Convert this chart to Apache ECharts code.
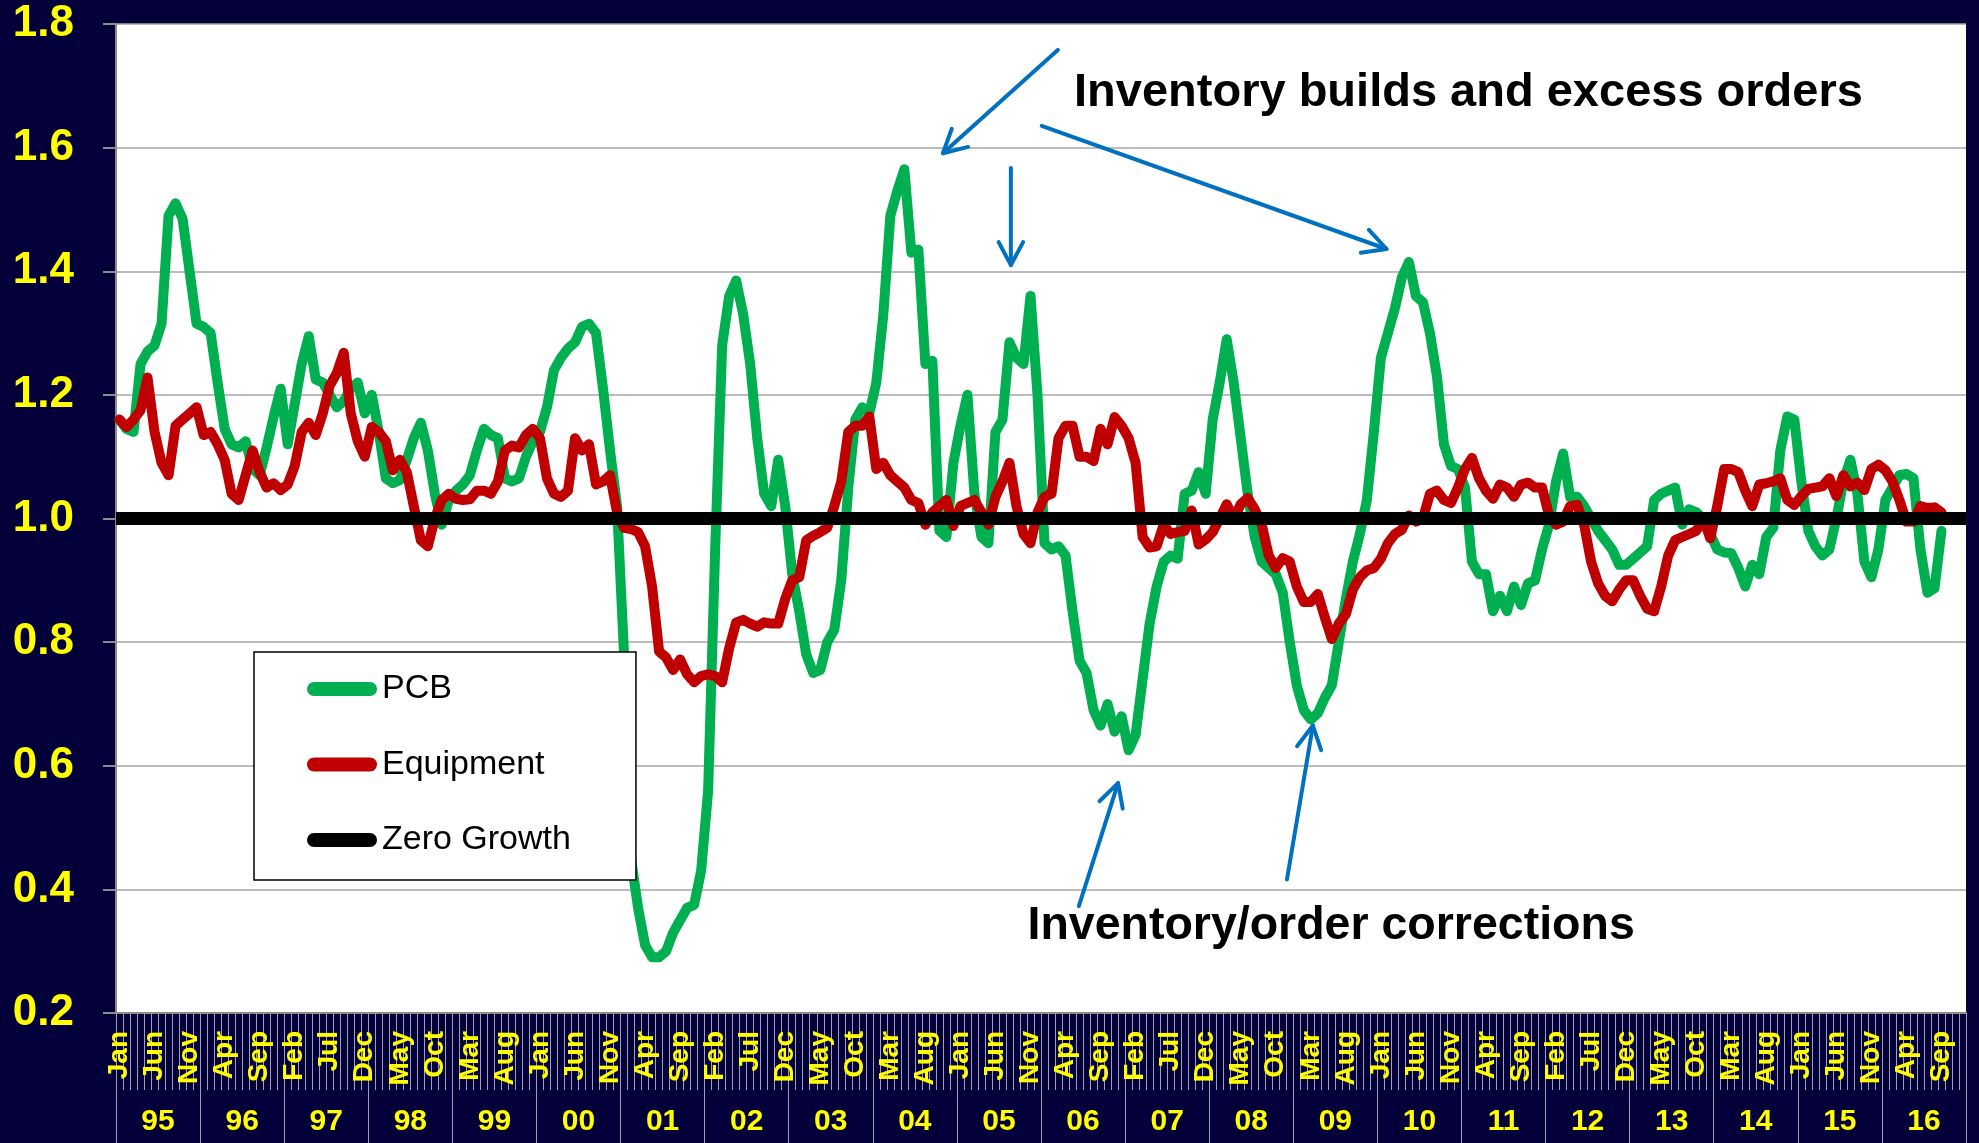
<!DOCTYPE html>
<html>
<head>
<meta charset="utf-8">
<title>PCB and Equipment Book-to-Bill</title>
<script src="https://cdn.jsdelivr.net/npm/echarts@6/dist/echarts.min.js"></script>
<style>
  html, body { margin: 0; padding: 0; background: #04003A; overflow: hidden; }
  #chart { width: 1979px; height: 1143px; }
</style>
</head>
<body>
<div id="chart"></div>
<script>
// Category labels
const MONTHS = ['Jan','Feb','Mar','Apr','May','Jun','Jul','Aug','Sep','Oct','Nov','Dec'];
const YEARS = ['95','96','97','98','99','00','01','02','03','04','05','06','07','08','09','10','11','12','13','14','15','16'];

// Monthly book-to-bill ratios, Jan 1995 .. Sep 2016 (one row per year)
const pcb = [
  1.16, 1.145, 1.14, 1.25, 1.27, 1.28, 1.315, 1.49, 1.51, 1.485, 1.40, 1.315,
  1.31, 1.30, 1.22, 1.145, 1.12, 1.115, 1.125, 1.08, 1.07, 1.115, 1.165, 1.21,
  1.12, 1.185, 1.25, 1.295, 1.225, 1.22, 1.20, 1.18, 1.19, 1.21, 1.22, 1.17,
  1.20, 1.14, 1.065, 1.057, 1.062, 1.095, 1.13, 1.155, 1.11, 1.04, 0.99, 1.03,
  1.045, 1.055, 1.07, 1.11, 1.145, 1.135, 1.13, 1.065, 1.06, 1.065, 1.10, 1.125,
  1.14, 1.18, 1.24, 1.26, 1.275, 1.285, 1.31, 1.315, 1.30, 1.21, 1.11, 1.02,
  0.78, 0.45, 0.37, 0.31, 0.29, 0.29, 0.30, 0.33, 0.35, 0.37, 0.375, 0.43,
  0.56, 0.95, 1.28, 1.36, 1.385, 1.33, 1.25, 1.13, 1.04, 1.02, 1.095, 1.02,
  0.91, 0.85, 0.78, 0.75, 0.755, 0.80, 0.82, 0.90, 1.05, 1.16, 1.18, 1.17,
  1.22, 1.33, 1.49, 1.53, 1.565, 1.43, 1.435, 1.25, 1.255, 0.98, 0.97, 1.09,
  1.15, 1.20, 1.04, 0.97, 0.96, 1.14, 1.16, 1.285, 1.26, 1.25, 1.36, 1.20,
  0.96, 0.95, 0.955, 0.94, 0.85, 0.77, 0.75, 0.69, 0.665, 0.70, 0.655, 0.68,
  0.625, 0.65, 0.74, 0.83, 0.89, 0.93, 0.94, 0.935, 1.04, 1.045, 1.075, 1.04,
  1.16, 1.22, 1.29, 1.22, 1.13, 1.04, 0.97, 0.93, 0.92, 0.91, 0.88, 0.80,
  0.73, 0.69, 0.675, 0.685, 0.71, 0.73, 0.80, 0.87, 0.93, 0.975, 1.03, 1.14,
  1.26, 1.30, 1.34, 1.39, 1.415, 1.36, 1.35, 1.30, 1.23, 1.12, 1.085, 1.08,
  1.05, 0.93, 0.91, 0.91, 0.85, 0.875, 0.85, 0.89, 0.86, 0.895, 0.90, 0.95,
  0.99, 1.06, 1.105, 1.035, 1.035, 1.02, 1.00, 0.98, 0.965, 0.95, 0.925, 0.925,
  0.935, 0.945, 0.955, 1.03, 1.04, 1.045, 1.05, 0.99, 1.015, 1.01, 1.00, 0.975,
  0.95, 0.945, 0.944, 0.92, 0.89, 0.925, 0.91, 0.97, 0.985, 1.11, 1.165, 1.16,
  1.06, 0.98, 0.955, 0.94, 0.95, 1.00, 1.06, 1.095, 1.04, 0.93, 0.905, 0.95,
  1.03, 1.05, 1.07, 1.072, 1.065, 0.95, 0.88, 0.887, 0.98
];

const equipment = [
  1.16, 1.148, 1.16, 1.175, 1.228, 1.14, 1.09, 1.07, 1.15, 1.16, 1.17, 1.18,
  1.135, 1.14, 1.12, 1.095, 1.04, 1.03, 1.07, 1.11, 1.075, 1.05, 1.057, 1.046,
  1.055, 1.085, 1.14, 1.155, 1.135, 1.17, 1.215, 1.235, 1.268, 1.17, 1.125, 1.10,
  1.148, 1.14, 1.125, 1.078, 1.095, 1.075, 1.02, 0.965, 0.955, 1.00, 1.03, 1.04,
  1.032, 1.03, 1.031, 1.045, 1.045, 1.04, 1.06, 1.11, 1.118, 1.115, 1.135, 1.145,
  1.13, 1.065, 1.04, 1.035, 1.045, 1.13, 1.11, 1.12, 1.055, 1.06, 1.07, 1.01,
  0.985, 0.983, 0.978, 0.955, 0.89, 0.785, 0.775, 0.755, 0.772, 0.748, 0.735, 0.745,
  0.748, 0.745, 0.735, 0.79, 0.832, 0.836, 0.83, 0.825, 0.832, 0.83, 0.83, 0.87,
  0.90, 0.905, 0.965, 0.972, 0.978, 0.985, 1.02, 1.06, 1.14, 1.15, 1.15, 1.165,
  1.08, 1.09, 1.07, 1.06, 1.05, 1.03, 1.025, 0.99, 1.01, 1.02, 1.03, 0.988,
  1.02, 1.025, 1.03, 1.01, 0.99, 1.035, 1.06, 1.09, 1.02, 0.975, 0.96, 1.01,
  1.035, 1.04, 1.13, 1.15, 1.15, 1.10, 1.10, 1.093, 1.145, 1.12, 1.164, 1.15,
  1.13, 1.09, 0.97, 0.953, 0.955, 0.99, 0.975, 0.978, 0.98, 1.013, 0.958, 0.966,
  0.978, 1.00, 1.023, 1.00, 1.023, 1.033, 1.015, 0.99, 0.94, 0.92, 0.936, 0.93,
  0.89, 0.865, 0.865, 0.878, 0.84, 0.805, 0.83, 0.845, 0.885, 0.905, 0.916, 0.92,
  0.935, 0.96, 0.975, 0.982, 1.005, 0.995, 1.00, 1.04, 1.045, 1.03, 1.025, 1.05,
  1.08, 1.098, 1.065, 1.045, 1.032, 1.055, 1.05, 1.035, 1.055, 1.058, 1.05, 1.05,
  1.005, 0.99, 0.995, 1.02, 1.022, 0.99, 0.93, 0.895, 0.875, 0.866, 0.885, 0.90,
  0.90, 0.875, 0.854, 0.85, 0.89, 0.94, 0.965, 0.97, 0.975, 0.98, 1.00, 0.968,
  1.02, 1.08, 1.08, 1.075, 1.045, 1.02, 1.055, 1.057, 1.06, 1.065, 1.03, 1.022,
  1.036, 1.048, 1.05, 1.052, 1.065, 1.036, 1.07, 1.052, 1.058, 1.046, 1.08, 1.087,
  1.078, 1.06, 1.03, 0.995, 0.995, 1.02, 1.017, 1.018, 1.01
];

// A book-to-bill of 1.0 means no growth
const ZERO_GROWTH_LEVEL = 1.0;

// Value axis ticks
const Y_MIN = 0.2, Y_MAX = 1.8, Y_STEP = 0.2;

// Month categories "Jan 95" .. "Dec 16"
const categories = [];
YEARS.forEach(y => MONTHS.forEach(m => categories.push(m + ' ' + y)));

const NAVY = '#04003A';
const YELLOW = '#FFFF00';
const GREEN = '#00B050';
const RED = '#C00000';
const BLUE = '#0070C0';
const GRID_GRAY = '#A6A6A6';
const AXIS_GRAY = '#8C8C8C';
const TICK_GRAY = '#A0A0B4';
const FONT = '"Liberation Sans", Arial, sans-serif';
const PILL = 'path://M7,0H63A7,7,0,0,1,63,14H7A7,7,0,0,1,7,0Z';

// Annotation callouts, placed in data space: [month index, ratio]
const ARROWS = [
  { from: [133.9, 1.758], to: [117.5, 1.591] },
  { from: [127.2, 1.567], to: [127.2, 1.410] },
  { from: [131.6, 1.635], to: [180.8, 1.436] },
  { from: [136.9, 0.373], to: [142.5, 0.572] },
  { from: [166.6, 0.416], to: [170.3, 0.665] }
];
const NOTES = [
  { text: 'Inventory builds and excess orders', at: [192.5, 1.688], size: 47 },
  { text: 'Inventory/order corrections', at: [172.9, 0.341], size: 46.5 }
];

const chart = echarts.init(document.getElementById('chart'), null, { renderer: 'canvas' });

const option = {
  backgroundColor: NAVY,
  animation: false,
  textStyle: { fontFamily: FONT },
  grid: {
    left: 116, right: 13, top: 24, bottom: 130,
    show: true, backgroundColor: '#FFFFFF', borderWidth: 0,
    containLabel: false, outerBoundsMode: 'none'
  },
  legend: {
    data: ['PCB', 'Equipment', 'Zero Growth'],
    orient: 'vertical',
    left: 254, top: 652,
    backgroundColor: '#FFFFFF',
    borderColor: '#000000', borderWidth: 1.5, borderRadius: 0,
    padding: [20, 65, 23, 53],
    itemWidth: 70, itemHeight: 14, itemGap: 41.5,
    icon: PILL,
    itemStyle: { borderWidth: 0 },
    selectedMode: false,
    textStyle: { color: '#000000', fontSize: 34, lineHeight: 34, fontFamily: FONT }
  },
  xAxis: [
    {
      type: 'category',
      data: categories,
      boundaryGap: true,
      position: 'bottom',
      axisLine: { show: true, lineStyle: { color: AXIS_GRAY, width: 2 } },
      axisTick: { show: true, interval: 0, length: 77, lineStyle: { color: TICK_GRAY, width: 1 } },
      axisLabel: {
        interval: (idx) => idx % 5 === 0,
        rotate: 90,
        margin: 18,
        color: YELLOW,
        fontSize: 28,
        fontWeight: 'bold',
        fontFamily: FONT,
        formatter: (v) => v.split(' ')[0]
      },
      splitLine: { show: false }
    },
    {
      type: 'category',
      data: YEARS,
      boundaryGap: true,
      position: 'bottom',
      offset: 77,
      axisLine: { show: false },
      axisTick: { show: true, interval: 0, length: 60, lineStyle: { color: TICK_GRAY, width: 1 } },
      axisLabel: {
        interval: 0,
        margin: 17,
        color: YELLOW,
        fontSize: 30,
        fontWeight: 'bold',
        fontFamily: FONT
      },
      splitLine: { show: false }
    }
  ],
  yAxis: {
    type: 'value',
    min: Y_MIN, max: Y_MAX, interval: Y_STEP,
    axisLine: { show: true, lineStyle: { color: AXIS_GRAY, width: 2 } },
    axisTick: { show: true, length: 13, lineStyle: { color: AXIS_GRAY, width: 2 } },
    axisLabel: {
      margin: 42,
      color: YELLOW,
      fontSize: 44,
      fontWeight: 'bold',
      fontFamily: FONT,
      formatter: (v) => v.toFixed(1)
    },
    splitLine: { show: true, lineStyle: { color: GRID_GRAY, width: 1.5 } }
  },
  series: [
    {
      name: 'PCB', type: 'line', data: pcb,
      xAxisIndex: 0, yAxisIndex: 0,
      symbol: 'none', showSymbol: false, silent: true, z: 2,
      itemStyle: { color: GREEN },
      lineStyle: { color: GREEN, width: 10, join: 'round', cap: 'round' }
    },
    {
      name: 'Equipment', type: 'line', data: equipment,
      xAxisIndex: 0, yAxisIndex: 0,
      symbol: 'none', showSymbol: false, silent: true, z: 3,
      itemStyle: { color: RED },
      lineStyle: { color: RED, width: 10, join: 'round', cap: 'round' }
    },
    {
      name: 'Zero Growth', type: 'line', data: [],
      xAxisIndex: 0, yAxisIndex: 0,
      symbol: 'none', silent: true, z: 4,
      itemStyle: { color: '#000000' },
      lineStyle: { color: '#000000', width: 13 },
      markLine: {
        silent: true,
        symbol: ['none', 'none'],
        label: { show: false },
        emphasis: { disabled: true },
        lineStyle: { color: '#000000', width: 13, type: 'solid', cap: 'butt' },
        data: [{ yAxis: ZERO_GROWTH_LEVEL }]
      }
    }
  ]
};

chart.setOption(option);

// Map data-space annotation points to pixels (fractional month index allowed)
const pA = chart.convertToPixel({ xAxisIndex: 0, yAxisIndex: 0 }, [0, 1.0]);
const pB = chart.convertToPixel({ xAxisIndex: 0, yAxisIndex: 0 }, [100, 1.8]);
const stepX = (pB[0] - pA[0]) / 100;
const stepY = (pB[1] - pA[1]) / 0.8;
const toPx = ([i, v]) => [pA[0] + i * stepX, pA[1] + (v - 1.0) * stepY];

function arrowGraphics(from, to) {
  const [x1, y1] = toPx(from);
  const [x2, y2] = toPx(to);
  const ang = Math.atan2(y2 - y1, x2 - x1);
  const head = 26, spread = 28 * Math.PI / 180;
  const w1 = [x2 - head * Math.cos(ang - spread), y2 - head * Math.sin(ang - spread)];
  const w2 = [x2 - head * Math.cos(ang + spread), y2 - head * Math.sin(ang + spread)];
  return [
    { type: 'line', z: 100, silent: true,
      shape: { x1, y1, x2, y2 },
      style: { stroke: BLUE, lineWidth: 4, lineCap: 'round' } },
    { type: 'polyline', z: 100, silent: true,
      shape: { points: [w1, [x2, y2], w2] },
      style: { stroke: BLUE, lineWidth: 4, lineCap: 'round', lineJoin: 'round', fill: null } }
  ];
}

const graphics = [];
ARROWS.forEach(a => graphics.push(...arrowGraphics(a.from, a.to)));
NOTES.forEach(n => {
  const [x, y] = toPx(n.at);
  graphics.push({
    type: 'text', z: 100, silent: true, x, y,
    style: {
      text: n.text, fill: '#000000',
      fontSize: n.size, fontWeight: 'bold', fontFamily: FONT,
      align: 'center', verticalAlign: 'middle'
    }
  });
});

chart.setOption({ graphic: graphics });
</script>
</body>
</html>
